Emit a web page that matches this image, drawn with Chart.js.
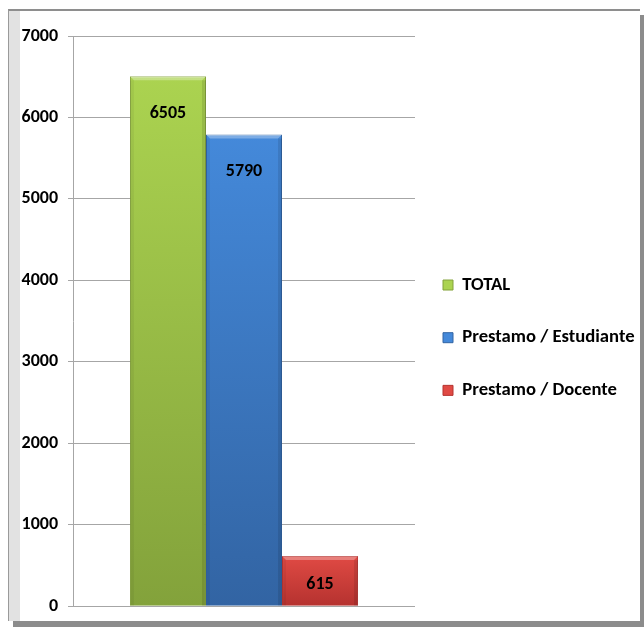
<!DOCTYPE html>
<html lang="es">
<head>
<meta charset="UTF-8">
<title>Prestamos</title>
<script src="https://cdn.jsdelivr.net/npm/chart.js"></script>
<style>
    html, body { margin: 0; padding: 0; background: #fff; }
    .marco {
        position: absolute; left: 8px; top: 9px; width: 631px; height: 610px;
        border-top: 2px solid #8e8e8e; border-left: 1px solid #9a9a9a;
        background: linear-gradient(to right, #e2e2e2 0, #e2e2e2 11px, #fff 11px);
        box-shadow: 5px 6px 0 #8c8c8c;
    }
    .caja { position: absolute; left: 0; top: 0; width: 644px; height: 627px; }
</style>
</head>
<body>
<div class="marco"></div>
<div class="caja"><canvas id="grafico"></canvas></div>
<script>
    const categorias = [''];
    const series = ['TOTAL', 'Prestamo / Estudiante', 'Prestamo / Docente'];
    const valores = [6505, 5790, 615];
    const colores = [
        ['#abd350', '#83a23b'],
        ['#4489da', '#3264a3'],
        ['#e04a44', '#b5322f']
    ];
    const ticksY = [0, 1000, 2000, 3000, 4000, 5000, 6000, 7000];

    // Calibri -> Carlito (mismas métricas)
    const fuente = "Carlito, Calibri, 'DejaVu Sans Condensed', sans-serif";
    const tamLeyenda = 18.67;
    const sepLeyenda = 34;

    function degradado(ctx, i) {
        const chart = ctx.chart;
        if (!chart.chartArea) return colores[i][0];
        const y = chart.scales.y;
        const top = y.getPixelForValue(valores[i]);
        const g = chart.ctx.createLinearGradient(0, top, 0, y.getPixelForValue(0));
        g.addColorStop(0, colores[i][0]);
        g.addColorStop(1, colores[i][1]);
        return g;
    }

    // bisel y etiquetas de valor dentro de cada barra
    const etiquetas = {
        id: 'etiquetas',
        afterDatasetsDraw(chart) {
            const ctx = chart.ctx;
            ctx.save();
            chart.data.datasets.forEach((ds, i) => {
                chart.getDatasetMeta(i).data.forEach((bar, j) => {
                    const w = bar.width, x0 = bar.x - w / 2, x1 = bar.x + w / 2;
                    const b = 4, h = bar.base - bar.y;
                    ctx.fillStyle = 'rgba(255,255,255,0.3)';
                    ctx.beginPath();
                    ctx.moveTo(x0, bar.y); ctx.lineTo(x1, bar.y);
                    ctx.lineTo(x1 - b, bar.y + b); ctx.lineTo(x0 + b, bar.y + b);
                    ctx.closePath(); ctx.fill();
                    ctx.fillStyle = 'rgba(0,0,0,0.10)';
                    ctx.fillRect(x1 - b, bar.y + b, b, h - b);
                    ctx.fillStyle = 'rgba(0,0,0,0.05)';
                    ctx.fillRect(x0, bar.y + b, b, h - b);

                    ctx.fillStyle = '#000';
                    ctx.font = 'bold 18px ' + fuente;
                    ctx.textAlign = 'center';
                    ctx.textBaseline = 'middle';
                    const yTxt = Math.min(bar.y + 37, (bar.y + bar.base) / 2 + 4);
                    ctx.fillText(ds.data[j], bar.x, yTxt);
                });
            });
            ctx.restore();
        }
    };

    // acerca un poco la leyenda al área del gráfico, como en el original
    const leyendaCerca = {
        id: 'leyendaCerca',
        afterLayout(chart) { chart.legend.left -= 6; }
    };

    new Chart(document.getElementById('grafico'), {
        type: 'bar',
        data: {
            labels: categorias,
            datasets: series.map((nombre, i) => ({
                label: nombre,
                data: [valores[i]],
                backgroundColor: ctx => degradado(ctx, i),
                borderColor: colores[i][1],
                borderWidth: 1,
                categoryPercentage: 0.667,
                barPercentage: 1
            }))
        },
        options: {
            responsive: true,
            maintainAspectRatio: false,
            animation: false,
            layout: { padding: { top: 36, bottom: 19, left: 0, right: 0 } },
            plugins: {
                tooltip: { enabled: false },
                legend: {
                    position: 'right',
                    maxWidth: 229,
                    title: { display: true, text: ' ', font: { size: 10 }, padding: 9.7 },
                    labels: {
                        boxWidth: 10,
                        boxHeight: 10,
                        padding: sepLeyenda,
                        color: '#000',
                        font: { family: fuente, size: tamLeyenda, weight: 'bold' },
                        generateLabels(chart) {
                            return series.map((nombre, i) => ({
                                text: nombre,
                                fillStyle: colores[i][0],
                                strokeStyle: colores[i][1],
                                fontColor: '#000',
                                lineWidth: 1,
                                datasetIndex: i
                            }));
                        }
                    }
                }
            },
            scales: {
                x: { display: false },
                y: {
                    min: 0,
                    max: 7000,
                    afterBuildTicks: s => { s.ticks = ticksY.map(v => ({ value: v })); },
                    afterFit: s => { s.width = 73; },
                    grid: { color: '#a6a6a6', tickLength: 5 },
                    border: { color: '#a6a6a6' },
                    ticks: {
                        padding: 10,
                        color: '#000',
                        callback: v => String(v),
                        font: { family: fuente, size: 18, weight: 'bold' }
                    }
                }
            }
        },
        plugins: [etiquetas, leyendaCerca]
    });
</script>
</body>
</html>
